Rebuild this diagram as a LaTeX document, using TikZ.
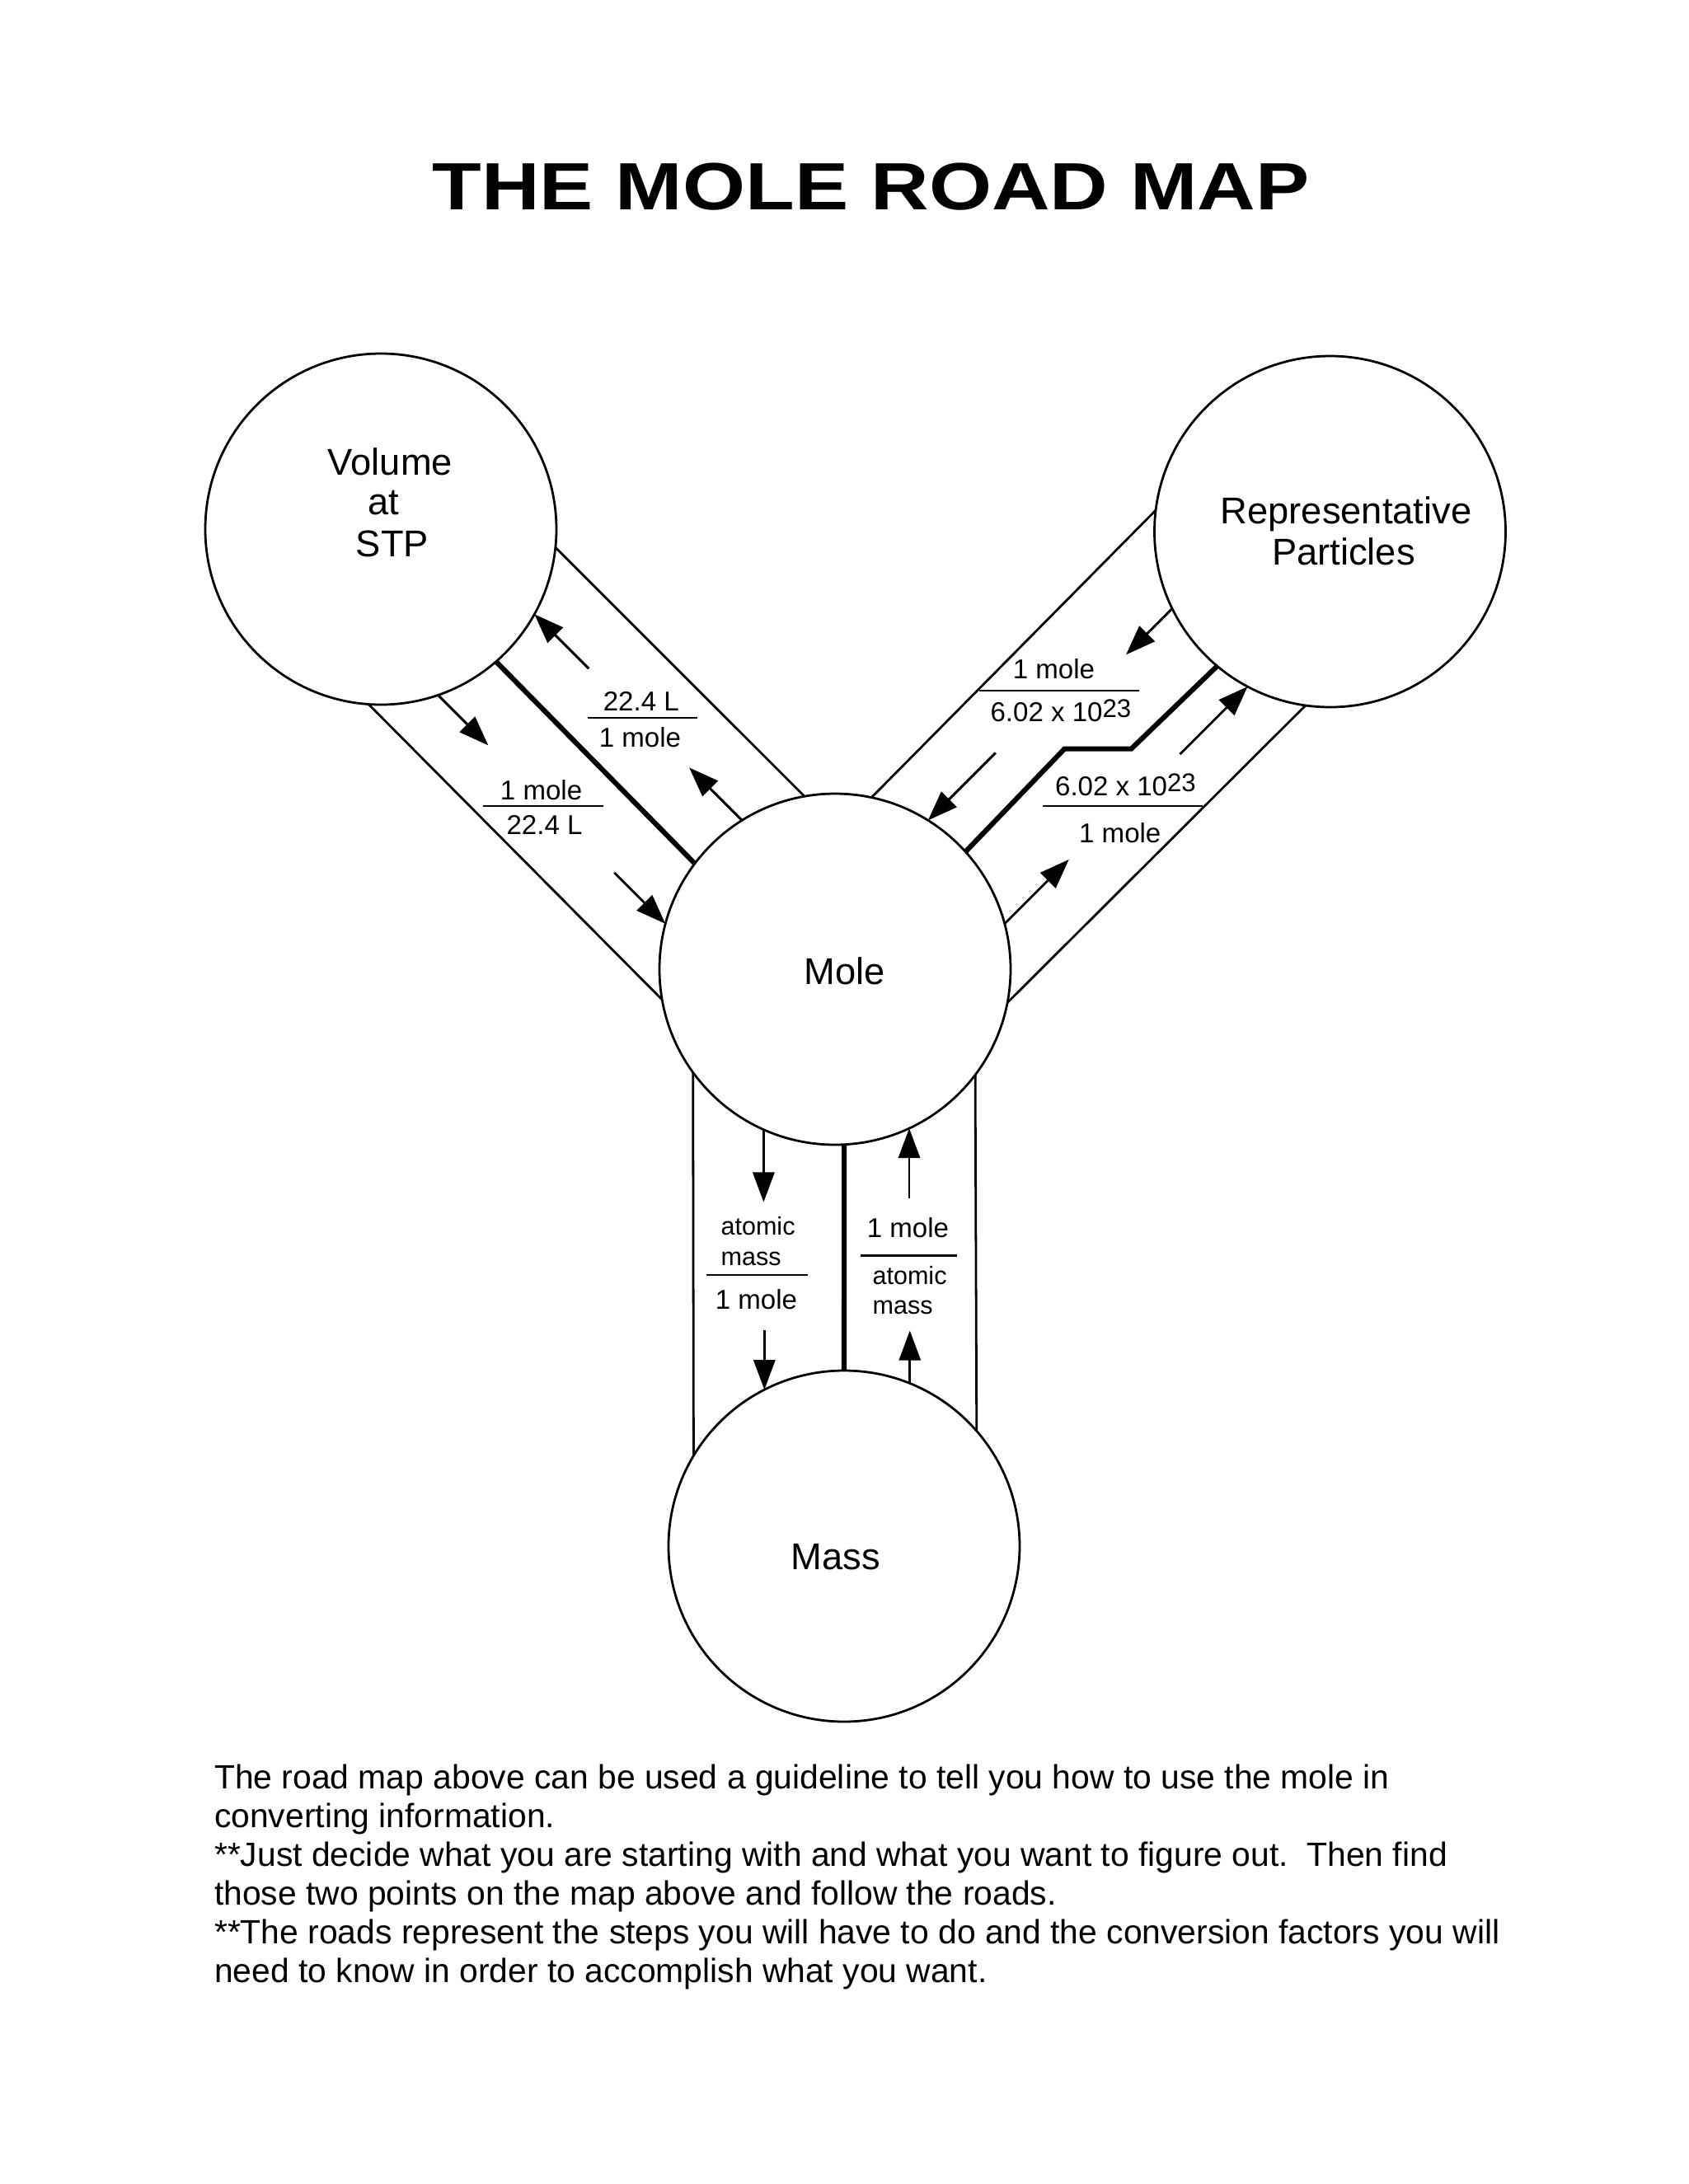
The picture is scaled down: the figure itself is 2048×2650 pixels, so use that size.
\documentclass[tikz,border=0pt]{standalone}
\usepackage{graphicx}
\usepackage{fontspec}
\setmainfont{Liberation Sans}
\usetikzlibrary{arrows.meta}
\newcommand\supnum[1]{\raisebox{1.8pt}{\fontsize{11.2}{12}\selectfont #1}}
\begin{document}
\begin{tikzpicture}[x=0.36pt,y=-0.36pt,
  circ/.style={circle, draw, line width=1pt, minimum size=153.36pt, inner sep=0pt, outer sep=0pt},
  road/.style={line width=1pt},
  divider/.style={line width=2.2pt},
  arr/.style={line width=1.05pt, -{Triangle[length=13pt,width=9.4pt]}},
  lbl/.style={inner sep=0pt, anchor=base, font=\fontsize{11.9}{13}\selectfont},
  lbls/.style={inner sep=0pt, anchor=base west, font=\fontsize{11}{12}\selectfont},
  big/.style={inner sep=0pt, anchor=base, font=\fontsize{16.3}{18}\selectfont},
  body/.style={inner sep=0pt, anchor=base west, font=\fontsize{14.7}{17}\selectfont},
  bar/.style={line width=1pt}]
\fill[white] (0,0) rectangle (2048,2650);
\useasboundingbox (0,0) rectangle (2048,2650);

% title
\node[inner sep=0pt, anchor=base] (title) at (1056.5,254)
  {\scalebox{1.205}[1]{\fontsize{29.2}{32}\selectfont\bfseries THE MOLE ROAD MAP}};

% circles
\node[circ] (vol)  at (462,642) {};
\node[circ] (rep)  at (1613.5,645) {};
\node[circ] (mole) at (1013,1176) {};
\node[circ] (mass) at (1024,1876) {};

% circle labels
\node[big] (volA) at (473.5,576) {Volume};
\node[big] (volB) at (465,624.5) {at};
\node[big] (volC) at (476,675.5) {STP};
\node[big] (repA) at (1633,635) {Representative};
\node[big] (repB) at (1630,685) {Particles};
\node[big] (moleL) at (1025,1194) {Mole};
\node[big] (massL) at (1013.7,1904) {Mass};

% volume road
\draw[road] (vol.-6.1) -- (mole.100.2);
\draw[divider] (vol.-49.8) -- (mole.143.0);
\draw[road] (vol.-94.8) -- (mole.190.1);

% representative particles road
\draw[road] (rep.173.0) -- (mole.78.9);
\draw[road] (rep.-98.2) -- (mole.-11.1);
\coordinate (j1) at (1372.4,908.6);
\coordinate (j2) at (1291.4,908.6);
\draw[divider] (rep.-130.7) -- (j1) -- (j2) -- (mole.42.9);

% mass road
\draw[road] (mole.216.1) -- (mass.149.2);
\draw[road] (mole.-37.0) -- (mass.41.7);
\draw[divider] (mole.-87.0) -- (mass.90);

% arrows volume road
\path (vol.-71.4) ++(61,61) coordinate (va1e);
\draw[arr] (vol.-71.4) -- (va1e);
\path (mole.165.1) ++(-62,-62) coordinate (va2s);
\draw[arr] (va2s) -- (mole.165.1);
\path (vol.-29.6) ++(66,66) coordinate (va3s);
\draw[arr] (va3s) -- (vol.-29.6);
\path (mole.122.9) ++(-64,-64) coordinate (va4e);
\draw[arr] (mole.122.9) -- (va4e);

% arrows particles road
\path (rep.206.2) ++(-56,56) coordinate (ra1e);
\draw[arr] (rep.206.2) -- (ra1e);
\path (mole.58.7) ++(82,-82) coordinate (ra2s);
\draw[arr] (ra2s) -- (mole.58.7);
\path (rep.242.9) ++(-82,82) coordinate (ra3s);
\draw[arr] (ra3s) -- (rep.242.9);
\path (mole.15.1) ++(78,-78) coordinate (ra4e);
\draw[arr] (mole.15.1) -- (ra4e);

% arrows mass road
\path (mole.246.4) ++(0,88) coordinate (ma1e);
\draw[arr] (mole.246.4) -- (ma1e);
\path (mass.117.9) ++(0,-72) coordinate (ma2s);
\draw[arr] (ma2s) -- (mass.117.9);
\path (mass.68.8) ++(0,-64) coordinate (ma3e);
\draw[arr] (mass.68.8) -- (ma3e);
\path (mole.-65.6) ++(0,85) coordinate (ma4s);
\draw[arr] (ma4s) -- (mole.-65.6);

% labels volume road
\node[lbl] (v1n) at (777.8,862.8) {22.4 L};
\draw[bar] (712.8,871) -- (846.4,871);
\node[lbl] (v1d) at (776.5,906.6) {1 mole};
\node[lbl] (v2n) at (656.6,970) {1 mole};
\draw[bar] (586,978) -- (732,978);
\node[lbl] (v2d) at (660.5,1012) {22.4 L};

% labels particles road
\node[lbl] (r1n) at (1278.4,823) {1 mole};
\draw[bar] (1188.3,838) -- (1381.7,838);
\node[lbl, anchor=base west] (r1d) at (1201,875.3) {6.02 x 10\supnum{23}};
\node[lbl, anchor=base west] (r2n) at (1279.6,965.4) {6.02 x 10\supnum{23}};
\draw[bar] (1265,978) -- (1459,978);
\node[lbl] (r2d) at (1358.8,1022.8) {1 mole};

% labels mass road
\node[lbls] (m1a) at (874,1498.8) {atomic};
\node[lbls] (m1b) at (874,1535) {mass};
\draw[bar] (856.7,1547) -- (980,1547);
\node[lbl] (m1d) at (917.5,1588.7) {1 mole};
\node[lbl] (m2n) at (1101.5,1501.8) {1 mole};
\draw[bar] (1044,1523.6) -- (1161,1523.6);
\node[lbls] (m2a) at (1058,1558) {atomic};
\node[lbls] (m2b) at (1058,1594.4) {mass};

% body text
\node[body] (t1) at (259.6,2170.5) {The road map above can be used a guideline to tell you how to use the mole in};
\node[body] (t2) at (259.6,2217.5) {converting information.};
\node[body] (t3) at (259.6,2264.5) {**Just decide what you are starting with and what you want to figure out.~\ Then find};
\node[body] (t4) at (259.6,2311.5) {those two points on the map above and follow the roads.};
\node[body] (t5) at (259.6,2358.5) {**The roads represent the steps you will have to do and the conversion factors you will};
\node[body] (t6) at (259.6,2405) {need to know in order to accomplish what you want.};
\end{tikzpicture}
\end{document}
